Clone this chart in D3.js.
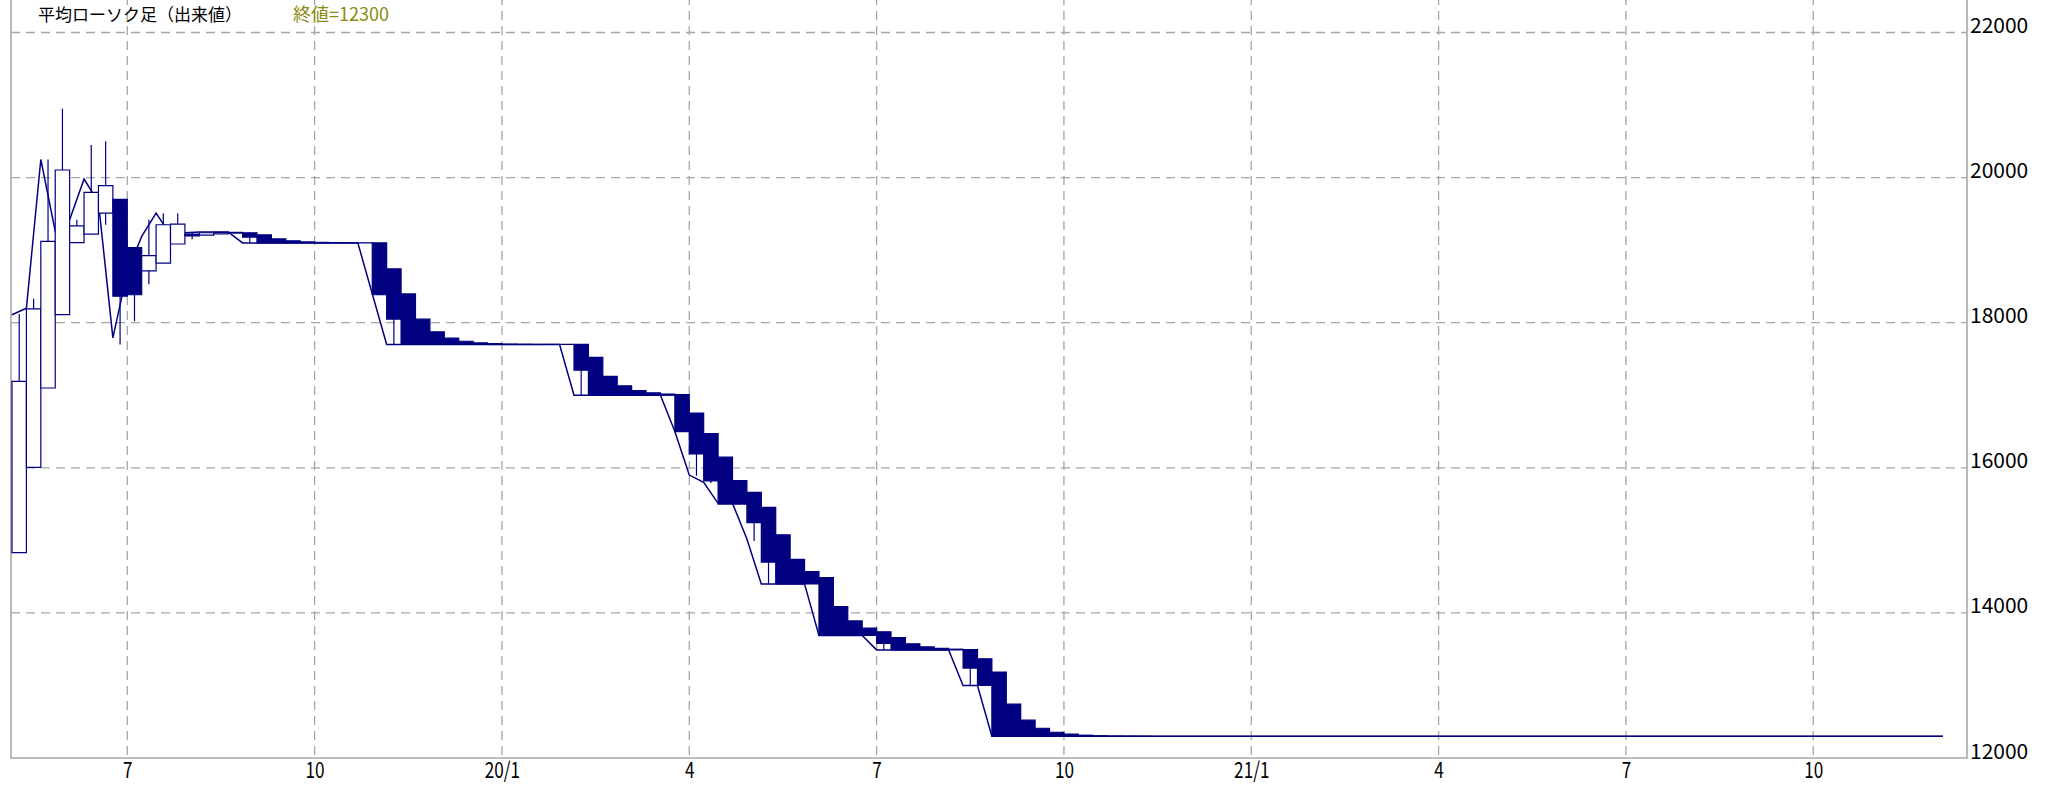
<!DOCTYPE html>
<html>
<head>
<meta charset="utf-8">
<script src="https://cdn.jsdelivr.net/npm/d3@7"></script>
<style>
  body { margin: 0; background: #fff; }
  svg { display: block; }
  text { font-family: "Noto Sans CJK JP", sans-serif; }
</style>
</head>
<body>
<svg id="chart" width="2053" height="785"></svg>
<script>
// weekly candles (heikin-ashi style)
var opens = [14830,16005,17100,18110,19105,19220,19510,19700,19035,18715,18820,19085,
  19222,19208,19224,19235,
  19240,19210,19155,19128,19114,19107,19103,19102,19101,
  19100,
  18742,18396,18048,17874,17787,17744,17722,17711,17705,17703,17701,17700,17700,
  17700,17522,17261,17130,17065,17033,17016,
  17008,16754,16472,16146,15823,15662,15454,15077,14738,14569,
  14485,14087,13889,13790,
  13740,13660,13575,13532,13511,13500,
  13495,13368,
  13184,12742,12521,12410,12355,12328,12314,12307,12303,12302,12301,
  12300,12300,12300,12300,12300,12300,12300,12300,12300,12300,12300,12300,12300,12300,
  12300,12300,12300,12300,12300,12300,12300,12300,12300,12300,12300,12300,12300,12300,
  12300,12300,12300,12300,12300,12300,12300,12300,12300,12300,12300,12300,12300,12300,
  12300,12300,12300,12300,12300,12300,12300,12300,12300,12300,12300,12300,12300];

var closes = [17190,18190,19120,20105,19335,19795,19890,18365,18385,18925,19350,19360,
  19195,19240,19245,19245,
  19180,19100,19100,19100,19100,19100,19100,19100,19100,
  18385,
  18050,17700,17700,17700,17700,17700,17700,17700,17700,17700,17700,17700,17700,
  17345,17000,17000,17000,17000,17000,17000,
  16500,16190,15820,15500,15500,15245,14700,14400,14400,14400,
  13690,13690,13690,13690,
  13580,13490,13490,13490,13490,13490,
  13240,13000,
  12300,12300,12300,12300,12300,12300,12300,12300,12300,12300,12300,
  12300,12300,12300,12300,12300,12300,12300,12300,12300,12300,12300,12300,12300,12300,
  12300,12300,12300,12300,12300,12300,12300,12300,12300,12300,12300,12300,12300,12300,
  12300,12300,12300,12300,12300,12300,12300,12300,12300,12300,12300,12300,12300,12300,
  12300,12300,12300,12300,12300,12300,12300,12300,12300,12300,12300,12300,12300];

var highs = [18120,18330,20250,20950,19420,20450,20500,19700,19035,19420,19510,19510,
  19250,19250,19250,19250,
  19240,19210,19155,19128,19114,19107,19103,19102,19101,
  19100,
  18742,18396,18048,17874,17787,17744,17722,17711,17705,17703,17701,17700,17700,
  17700,17522,17261,17130,17065,17033,17016,
  17008,16754,16472,16146,15823,15662,15454,15077,14738,14569,
  14485,14087,13889,13790,
  13740,13660,13575,13532,13511,13500,
  13495,13368,
  13184,12742,12521,12410,12355,12328,12314,12307,12303,12302,12301,
  12300,12300,12300,12300,12300,12300,12300,12300,12300,12300,12300,12300,12300,12300,
  12300,12300,12300,12300,12300,12300,12300,12300,12300,12300,12300,12300,12300,12300,
  12300,12300,12300,12300,12300,12300,12300,12300,12300,12300,12300,12300,12300,12300,
  12300,12300,12300,12300,12300,12300,12300,12300,12300,12300,12300,12300,12300];

var lows = [14830,16005,17100,18110,19105,19220,19350,17700,18020,18530,18820,19085,
  19150,19208,19224,19235,
  19100,19100,19100,19100,19100,19100,19100,19100,19100,
  18385,
  17700,17700,17700,17700,17700,17700,17700,17700,17700,17700,17700,17700,17700,
  17000,17000,17000,17000,17000,17000,17000,
  16500,15890,15790,15500,15500,14990,14400,14400,14400,14400,
  13690,13690,13690,13690,
  13490,13490,13490,13490,13490,13490,
  13000,13000,
  12300,12300,12300,12300,12300,12300,12300,12300,12300,12300,12300,
  12300,12300,12300,12300,12300,12300,12300,12300,12300,12300,12300,12300,12300,12300,
  12300,12300,12300,12300,12300,12300,12300,12300,12300,12300,12300,12300,12300,12300,
  12300,12300,12300,12300,12300,12300,12300,12300,12300,12300,12300,12300,12300,12300,
  12300,12300,12300,12300,12300,12300,12300,12300,12300,12300,12300,12300,12300];

// traded price line, one point per week boundary
var tradeLine = [18110,18200,20250,19260,19420,19980,19660,17790,18700,19190,19510,19210,
  19240,19250,19250,19250,
  19100,19100,19100,19100,19100,19100,19100,19100,19100,
  18400,
  17700,17700,17700,17700,17700,17700,17700,17700,17700,17700,17700,17700,17700,
  17000,17000,17000,17000,17000,17000,17000,
  16500,15900,15800,15510,15510,15020,
  14400,14400,14400,14400,
  13690,13690,13690,13690,
  13490,13490,13490,13490,13490,13490,
  13000,13000,
  12300,12300,12300,12300,12300,12300,12300,12300,12300,12300,12300,12300,12300,12300,
  12300,12300,12300,12300,12300,12300,12300,12300,12300,12300,12300,12300,12300,12300,
  12300,12300,12300,12300,12300,12300,12300,12300,12300,12300,12300,12300,12300,12300,
  12300,12300,12300,12300,12300,12300,12300,12300,12300,12300,12300,12300,12300,12300,
  12300,12300,12300,12300,12300,12300,12300,12300,12300,12300,12300];

var tickWeeks = [8, 21, 34, 47, 60, 73, 86, 99, 112, 125];
var tickLabels = ["7", "10", "20/1", "4", "7", "10", "21/1", "4", "7", "10"];
var priceTicks = [12000, 14000, 16000, 18000, 20000, 22000];
var titleText = "平均ローソク足（出来値）";
var lastText = "終値=12300";

var svg = d3.select("#chart"),
    plot = {left: 11, right: 1967, top: -4, bottom: 758},
    navy = "#000080";

var n = opens.length;
var x = d3.scaleLinear().domain([0, n]).range([12, 12 + n * 14.41]);
var y = d3.scaleLinear().domain([12000, 22000]).range([758, 32.5]);

// grid
var grid = svg.append("g").attr("stroke", "#a6a6a6").attr("stroke-width", 1.3)
  .attr("stroke-dasharray", "9,6").attr("fill", "none");
grid.selectAll(".hg").data(priceTicks.slice(1)).enter().append("line")
  .attr("x1", plot.left).attr("x2", plot.right)
  .attr("y1", function(d) { return y(d); }).attr("y2", function(d) { return y(d); });
grid.selectAll(".vg").data(tickWeeks).enter().append("line")
  .attr("y1", plot.top).attr("y2", plot.bottom)
  .attr("x1", function(d) { return x(d); }).attr("x2", function(d) { return x(d); });

// frame
svg.append("path")
  .attr("d", "M" + plot.left + "," + plot.top + "V" + plot.bottom + "H" + plot.right + "V" + plot.top)
  .attr("fill", "none").attr("stroke", "#a8a8a8").attr("stroke-width", 1.6);

// price line (behind the candles)
var line = d3.line()
  .x(function(d, i) { return x(i); })
  .y(function(d) { return y(d); });
svg.append("path").datum(tradeLine)
  .attr("d", line).attr("fill", "none").attr("stroke", navy).attr("stroke-width", 1.5);

// candles
var candles = svg.append("g").selectAll("g").data(opens).enter().append("g");
candles.append("line")
  .attr("x1", function(d, i) { return (x(i) + x(i + 1)) / 2; })
  .attr("x2", function(d, i) { return (x(i) + x(i + 1)) / 2; })
  .attr("y1", function(d, i) { return y(highs[i]); })
  .attr("y2", function(d, i) { return y(lows[i]); })
  .attr("stroke", navy).attr("stroke-width", 1.2);
candles.append("path")
  .attr("d", function(d, i) {
    var y0 = y(opens[i]), y1 = y(closes[i]);
    return "M" + x(i) + "," + y0 + "H" + x(i + 1) + "V" + y1 + "H" + x(i) + "Z";
  })
  .attr("fill", function(d, i) { return closes[i] < opens[i] ? navy : "#fff"; })
  .attr("stroke", navy).attr("stroke-width", 1.2);

// x axis labels
var xAxis = svg.append("g")
  .attr("transform", "translate(0," + plot.bottom + ")")
  .call(d3.axisBottom(x).tickValues(tickWeeks)
    .tickFormat(function(d, i) { return tickLabels[i]; }).tickSize(0));
xAxis.select(".domain").remove();
xAxis.selectAll("text")
  .attr("y", 0).attr("dy", null)
  .attr("transform", "translate(0,19.5) scale(0.78,1)")
  .attr("font-family", "'Noto Sans CJK JP', sans-serif")
  .attr("font-size", 22).attr("fill", "#000");

// right price labels
var yAxis = svg.append("g")
  .attr("transform", "translate(" + plot.right + ",0)")
  .call(d3.axisRight(y).tickValues(priceTicks).tickFormat(d3.format("d")).tickSize(0));
yAxis.select(".domain").remove();
yAxis.selectAll("text")
  .attr("x", 3).attr("dy", null).attr("y", 0)
  .attr("font-family", "'Noto Sans CJK JP', sans-serif")
  .attr("font-size", 21).attr("fill", "#000");

// title + last price along the top edge
svg.append("text").attr("x", 38).attr("y", 20.5)
  .attr("font-size", 17).attr("fill", "#000").text(titleText);
svg.append("text").attr("x", 293).attr("y", 21)
  .attr("font-size", 18).attr("fill", "#8a8a10").text(lastText);
</script>
</body>
</html>
